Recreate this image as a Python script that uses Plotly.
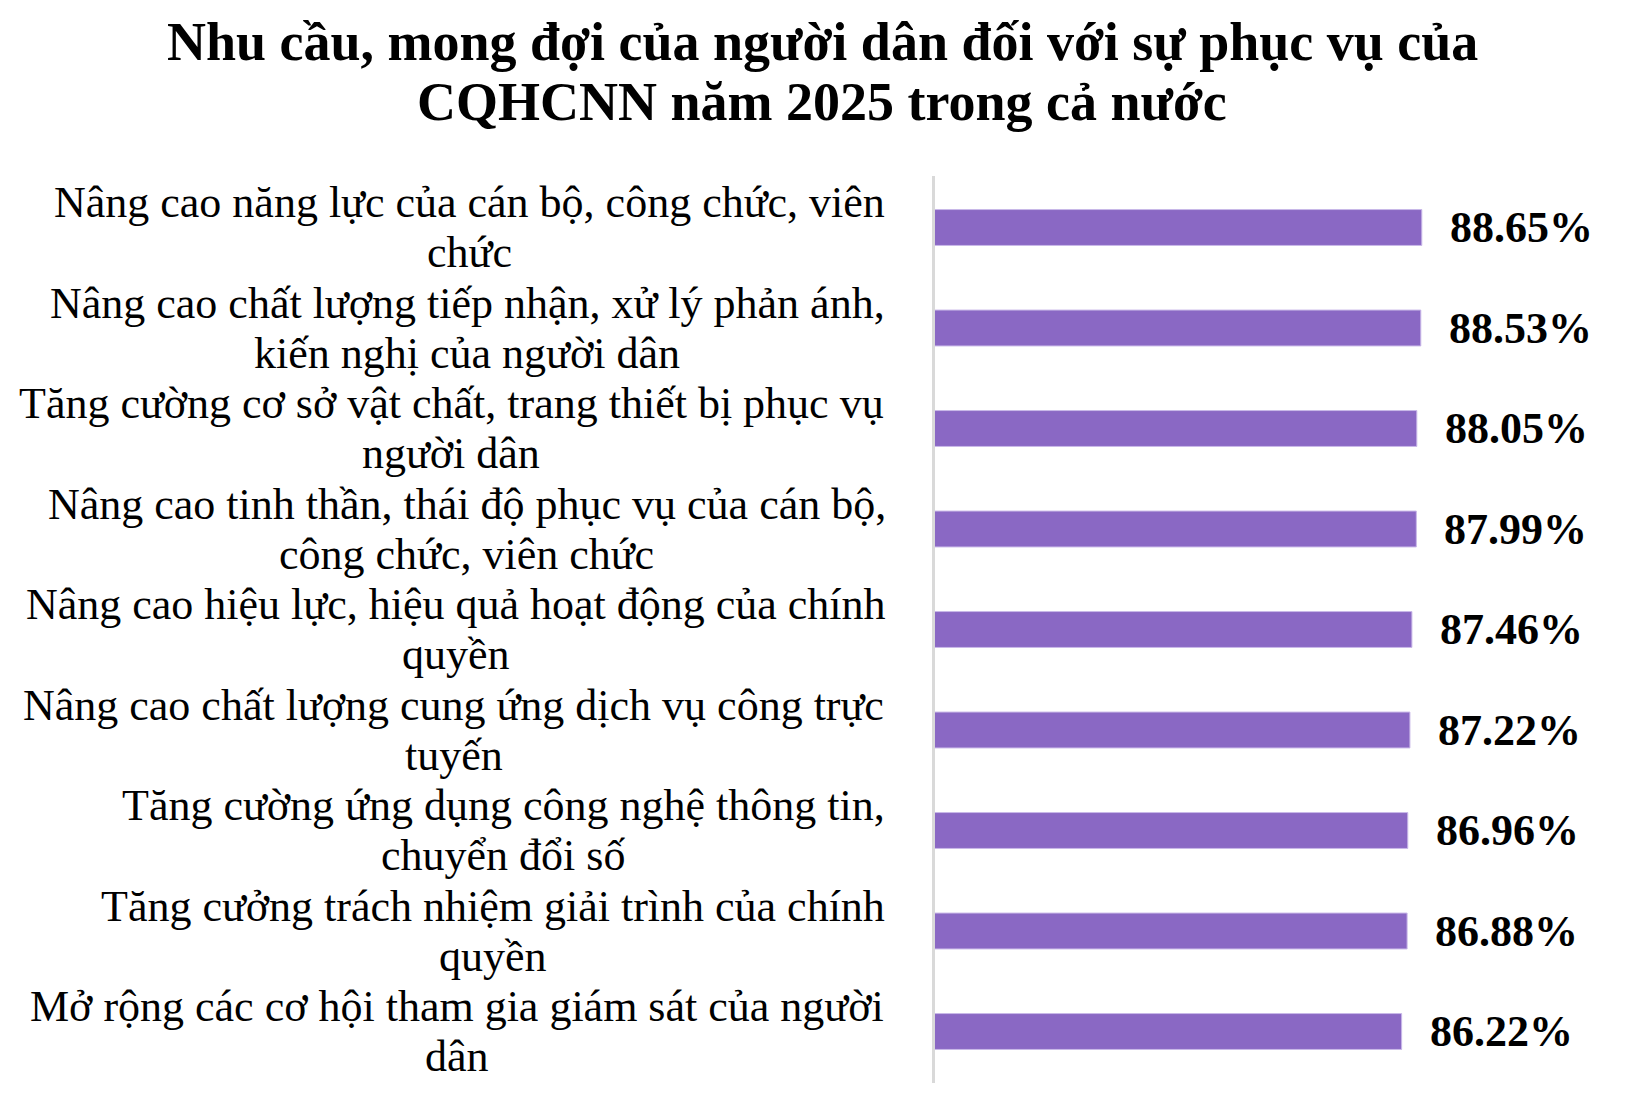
import unicodedata
import plotly.graph_objects as go

categories = [
    "Nâng cao năng lực của cán bộ, công chức, viên<br>chức",
    "Nâng cao chất lượng tiếp nhận, xử lý phản ánh,<br>kiến nghị của người dân",
    "Tăng cường cơ sở vật chất, trang thiết bị phục vụ<br>người dân",
    "Nâng cao tinh thần, thái độ phục vụ của cán bộ,<br>công chức, viên chức",
    "Nâng cao hiệu lực, hiệu quả hoạt động của chính<br>quyền",
    "Nâng cao chất lượng cung ứng dịch vụ công trực<br>tuyến",
    "Tăng cường ứng dụng công nghệ thông tin,<br>chuyển đổi số",
    "Tăng cưởng trách nhiệm giải trình của chính<br>quyền",
    "Mở rộng các cơ hội tham gia giám sát của người<br>dân",
]
values = [88.65, 88.53, 88.05, 87.99, 87.46, 87.22, 86.96, 86.88, 86.22]
value_labels = ["88.65%", "88.53%", "88.05%", "87.99%", "87.46%", "87.22%", "86.96%", "86.88%", "86.22%"]
title_lines = ["Nhu cầu, mong đợi của người dân đối với sự phục vụ của",
               "CQHCNN năm 2025 trong cả nước"]

FONT = "Liberation Serif, Times New Roman, serif"
# page body has an 8px default margin, so the figure is sized to fit inside it
W, H = 1610, 1077
ML, MR, MT, MB = 927, 26, 168, 2
PW, PH = W - ML - MR, H - MT - MB
ids = list(range(len(categories)))

LBL_SIZE = 44
LINE_OFF = 25      # px from category centre to each label line centre
LBL_GAP = 49       # px between plot edge and the right side of label block

# approximate Times / Liberation Serif advance widths (per 1000 em)
_TW = {" ": 250, ",": 250, ".": 250, "-": 333,
       "a": 444, "b": 500, "c": 444, "d": 500, "e": 444, "f": 333, "g": 500, "h": 500,
       "i": 278, "j": 278, "k": 500, "l": 278, "m": 778, "n": 500, "o": 500, "p": 500,
       "q": 500, "r": 333, "s": 389, "t": 278, "u": 500, "v": 500, "w": 722, "x": 500,
       "y": 500, "z": 444, "N": 722, "T": 611, "M": 889}


def text_width(s, size):
    tot = 0
    for ch in s:
        d = unicodedata.normalize("NFD", ch)
        base = d[0]
        if base in ("đ", "Đ"):
            base = "d"
        w = _TW.get(base, 500)
        if "\u031b" in d:
            w += 60
        tot += w
    return tot * size / 1000.0


fig = go.Figure()
fig.add_trace(go.Bar(
    x=values, y=ids, orientation="h",
    marker=dict(color="#8A68C4", line=dict(color="#C9B8E8", width=1)),
    hoverinfo="skip",
))

annotations = []
for i, (c, v, t) in enumerate(zip(categories, values, value_labels)):
    l1, l2 = c.split("<br>")
    block = max(text_width(l1, LBL_SIZE), text_width(l2, LBL_SIZE))
    for txt, ys in ((l1, LINE_OFF), (l2, -LINE_OFF)):
        annotations.append(dict(
            x=0, xref="paper", y=i, yref="y", text=txt, showarrow=False,
            xanchor="center", yanchor="middle", xshift=-LBL_GAP - block / 2, yshift=ys,
            font=dict(family=FONT, size=LBL_SIZE, color="#000000"),
        ))
    annotations.append(dict(
        x=v, xref="x", y=i, yref="y", text=t, showarrow=False,
        xanchor="left", yanchor="middle", xshift=26,
        font=dict(family=FONT, size=44, color="#000000", weight="bold"),
    ))

title_cx = 814
for line, cy in zip(title_lines, (34, 94)):
    annotations.append(dict(
        x=(title_cx - ML) / PW, xref="paper", y=(H - MB - cy) / PH, yref="paper",
        text="<b>" + line + "</b>", showarrow=False, xanchor="center", yanchor="middle",
        font=dict(family=FONT, size=54, color="#000000"),
    ))

fig.update_layout(
    width=W, height=H,
    margin=dict(l=ML, r=MR, t=MT, b=MB),
    paper_bgcolor="white", plot_bgcolor="white",
    xaxis=dict(range=[30, 30 + PW / 8.30], visible=False, showgrid=False, zeroline=False),
    yaxis=dict(autorange="reversed", showticklabels=False, showgrid=False, zeroline=False,
               showline=True, linecolor="#D9D9D9", linewidth=3, ticks=""),
    bargap=0.643,
    showlegend=False,
    annotations=annotations,
)

fig.write_html("out.html")
